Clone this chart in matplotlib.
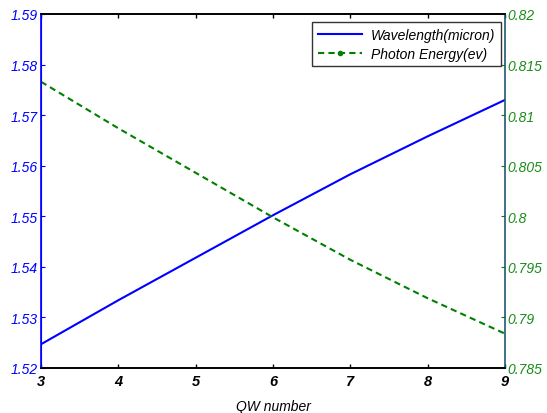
import matplotlib
matplotlib.use("Agg")
import matplotlib.pyplot as plt
from matplotlib.lines import Line2D

qw_number = [3, 4, 5, 6, 7, 8, 9]
wavelength = [1.5247, 1.5334, 1.5418, 1.5502, 1.5583, 1.5658, 1.5730]
photon_energy = [0.8133, 0.8087, 0.8043, 0.7999, 0.7957, 0.7919, 0.7884]

left_ticks = [1.52, 1.53, 1.54, 1.55, 1.56, 1.57, 1.58, 1.59]
left_labels = ["1.52", "1.53", "1.54", "1.55", "1.56", "1.57", "1.58", "1.59"]
right_ticks = [0.785, 0.79, 0.795, 0.8, 0.805, 0.81, 0.815, 0.82]
right_labels = ["0.785", "0.79", "0.795", "0.8", "0.805", "0.81", "0.815", "0.82"]
x_ticks = [3, 4, 5, 6, 7, 8, 9]

plt.rcParams['font.family'] = ['Liberation Sans', 'DejaVu Sans']

BLUE = '#0000ff'
GREEN = '#008000'

fig = plt.figure(figsize=(5.47, 4.14), dpi=100)
ax = fig.add_axes([0.075, 0.1087, 0.848, 0.8551])
ax2 = ax.twinx()

ax.plot(qw_number, wavelength, color=BLUE, lw=1.5)
ax2.plot(qw_number, photon_energy, color=GREEN, lw=1.5, ls='--', dashes=(3, 2))

ax.set_xlim(3, 9)
ax.set_ylim(1.52, 1.59)
ax2.set_ylim(0.785, 0.82)

ax.set_xticks(x_ticks)
ax.set_xticklabels([str(v) for v in x_ticks], fontstyle='italic', fontweight='bold', fontsize=10.5)
ax.set_yticks(left_ticks)
ax.set_yticklabels(left_labels, fontstyle='italic', fontsize=10, color=BLUE)
ax2.set_yticks(right_ticks)
ax2.set_yticklabels(right_labels, fontstyle='italic', fontsize=10, color='#1a8c1a')

ax.tick_params(axis='x', direction='in', length=3, top=True, width=1, pad=4)
ax.tick_params(axis='y', direction='in', length=3, colors=BLUE, labelcolor=BLUE, pad=2)
ax2.tick_params(axis='y', direction='in', length=3, colors=GREEN, labelcolor='#1a8c1a', pad=2)

for a in (ax, ax2):
    a.spines['top'].set_color('black')
    a.spines['bottom'].set_color('black')
    a.spines['top'].set_linewidth(1.2)
    a.spines['bottom'].set_linewidth(1.2)
ax2.spines['left'].set_color(BLUE)
ax2.spines['left'].set_linewidth(1.2)
ax2.spines['right'].set_color('#1f5a6e')
ax2.spines['right'].set_linewidth(1.2)
ax.spines['left'].set_color(BLUE)
ax.spines['right'].set_visible(False)

ax.set_xlabel('QW number', fontstyle='italic', fontsize=10, labelpad=8)

handles = [
    Line2D([], [], color=BLUE, lw=1.5),
    Line2D([], [], color=GREEN, lw=1.5, ls='--', dashes=(3, 2), marker='.', markersize=6),
]
leg = ax2.legend(handles, ['Wavelength(micron)', 'Photon Energy(ev)'],
                 loc='upper right', bbox_to_anchor=(0.991, 0.977),
                 prop={'style': 'italic', 'size': 10}, frameon=True, fancybox=False,
                 edgecolor='black', handlelength=3.2, borderpad=0.4, labelspacing=0.35,
                 handletextpad=0.6, borderaxespad=0)
leg.get_frame().set_linewidth(1.0)

fig.savefig('out.png', dpi=100)
